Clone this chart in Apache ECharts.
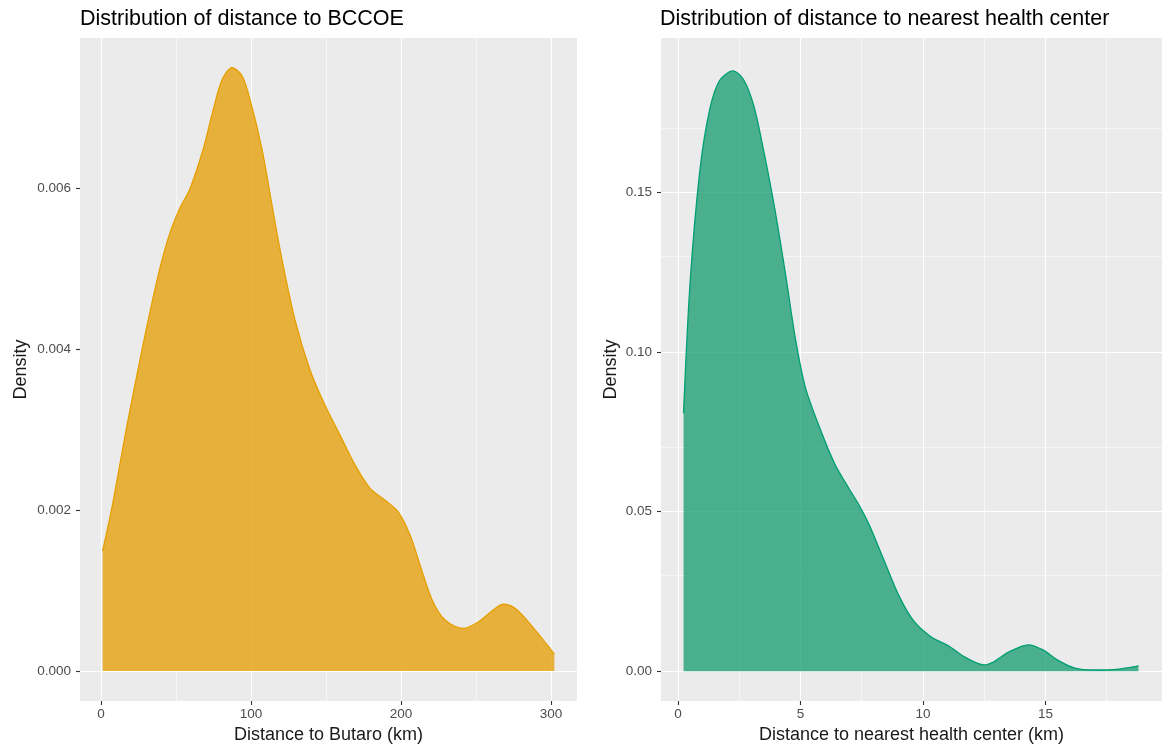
<!DOCTYPE html>
<html>
<head>
<meta charset="utf-8">
<script src="https://cdn.jsdelivr.net/npm/echarts@6/dist/echarts.min.js"></script>
<style>
  html, body { margin: 0; padding: 0; background: #fff; }
  #chart { width: 1162px; height: 750px; }
</style>
</head>
<body>
<div id="chart"></div>
<script>
// density of distance to BCCOE (km)
var butaroX = [1.1, 8.0, 17.3, 27.4, 34.0, 40.0, 46.0, 52.7, 59.4, 68.0, 74.7, 80.7, 87.4, 94.0, 99.4, 107.4, 114.0, 120.7, 129.4, 139.4, 149.4, 159.4, 169.4, 179.4, 189.5, 198.0, 206.0, 212.8, 220.8, 229.5, 241.5, 251.5, 260.8, 268.2, 276.0, 284.0, 292.9, 302.2];
var butaroY = [0.00149, 0.00210, 0.00305, 0.00400, 0.00458, 0.00506, 0.00545, 0.00576, 0.00600, 0.00648, 0.00697, 0.00735, 0.00750, 0.00740, 0.00710, 0.00648, 0.00579, 0.00511, 0.00436, 0.00374, 0.00330, 0.00293, 0.00256, 0.00227, 0.00212, 0.00198, 0.00169, 0.00131, 0.00088, 0.00063, 0.00053, 0.00061, 0.00075, 0.00083, 0.00078, 0.00063, 0.00043, 0.00021];

// density of distance to nearest health center (km)
var healthX = [0.23, 0.5, 0.9, 1.3, 1.7, 2.25, 2.7, 3.1, 3.5, 3.95, 4.4, 4.8, 5.2, 5.8, 6.4, 7.0, 7.4, 7.8, 8.4, 9.0, 9.6, 10.3, 11.1, 11.7, 12.5, 12.9, 13.5, 14.3, 14.9, 15.5, 16.2, 17.0, 18.0, 18.8];
var healthY = [0.0808, 0.122, 0.157, 0.176, 0.185, 0.188, 0.185, 0.177, 0.163, 0.145, 0.124, 0.104, 0.089, 0.076, 0.065, 0.057, 0.052, 0.046, 0.035, 0.024, 0.016, 0.011, 0.0077, 0.0045, 0.002, 0.003, 0.006, 0.0083, 0.0067, 0.0035, 0.001, 0.0004, 0.0007, 0.0017];

// ticks
var butaroTicks = [0, 100, 200, 300];
var butaroMinor = [50, 150, 250];
var butaroDensTicks = [0, 0.002, 0.004, 0.006];
var butaroDensMinor = [0.001, 0.003, 0.005, 0.007];
var healthTicks = [0, 5, 10, 15];
var healthMinor = [2.5, 7.5, 12.5, 17.5];
var healthDensTicks = [0, 0.05, 0.10, 0.15];
var healthDensMinor = [0.025, 0.075, 0.125, 0.175];

var FONT = 'Liberation Sans';

function pairs(xs, ys) {
  return xs.map(function (x, i) { return [x, ys[i]]; });
}

// ggplot style grid lines drawn through the axes' scales
function gridLines(major, minor, key) {
  var out = [];
  major.forEach(function (v) {
    var o = {}; o[key] = v; o.lineStyle = { width: 1.1 }; out.push(o);
  });
  minor.forEach(function (v) {
    var o = {}; o[key] = v; o.lineStyle = { width: 0.55 }; out.push(o);
  });
  return out;
}

function gridSeries(idx, xMaj, xMin, yMaj, yMin) {
  return {
    type: 'line', xAxisIndex: idx, yAxisIndex: idx, data: [], z: 1,
    markLine: {
      silent: true, symbol: 'none', animation: false, z: 1,
      label: { show: false },
      lineStyle: { color: '#ffffff', type: 'solid' },
      emphasis: { disabled: true },
      data: gridLines(xMaj, xMin, 'xAxis').concat(gridLines(yMaj, yMin, 'yAxis'))
    }
  };
}

function xAxisOf(idx, min, max, ticks, name) {
  return {
    type: 'value', gridIndex: idx, min: min, max: max,
    name: name, nameLocation: 'middle', nameGap: 24,
    nameTextStyle: { fontFamily: FONT, fontSize: 18, color: '#1a1a1a', verticalAlign: 'top' },
    axisLine: { show: false, onZero: false },
    axisTick: { show: true, length: 4, customValues: ticks, lineStyle: { color: '#333333', width: 1.1 } },
    axisLabel: { customValues: ticks, fontFamily: FONT, fontSize: 13.5, color: '#4d4d4d', margin: 6 },
    splitLine: { show: false }
  };
}

function yAxisOf(idx, min, max, ticks, gap, fmt) {
  return {
    type: 'value', gridIndex: idx, min: min, max: max,
    name: 'Density', nameLocation: 'middle', nameGap: gap, nameRotate: 90,
    nameTextStyle: { fontFamily: FONT, fontSize: 18, color: '#1a1a1a' },
    axisLine: { show: false, onZero: false },
    axisTick: { show: true, length: 4, customValues: ticks, lineStyle: { color: '#333333', width: 1.1 } },
    axisLabel: { customValues: ticks, fontFamily: FONT, fontSize: 13.5, color: '#4d4d4d', margin: 9, formatter: fmt },
    splitLine: { show: false }
  };
}

var chart = echarts.init(document.getElementById('chart'), null, { renderer: 'canvas' });
chart.setOption({
  animation: false,
  backgroundColor: '#ffffff',
  title: [
    { text: 'Distribution of distance to BCCOE', left: 75, top: 3,
      textStyle: { fontFamily: FONT, fontSize: 21.5, fontWeight: 'normal', color: '#000' } },
    { text: 'Distribution of distance to nearest health center', left: 655, top: 3,
      textStyle: { fontFamily: FONT, fontSize: 21.5, fontWeight: 'normal', color: '#000' } }
  ],
  grid: [
    { left: 80, top: 38, width: 497, height: 663, show: true, backgroundColor: '#ebebeb', borderWidth: 0 },
    { left: 661, top: 38, width: 503, height: 663, show: true, backgroundColor: '#ebebeb', borderWidth: 0 }
  ],
  xAxis: [
    xAxisOf(0, -14, 317.3, butaroTicks, 'Distance to Butaro (km)'),
    xAxisOf(1, -0.69, 19.76, healthTicks, 'Distance to nearest health center (km)')
  ],
  yAxis: [
    yAxisOf(0, -0.000373, 0.00787, butaroDensTicks, 50, function (v) { return v.toFixed(3); }),
    yAxisOf(1, -0.0093, 0.1983, healthDensTicks, 41, function (v) { return v.toFixed(2); })
  ],
  series: [
    gridSeries(0, butaroTicks, butaroMinor, butaroDensTicks, butaroDensMinor),
    gridSeries(1, healthTicks, healthMinor, healthDensTicks, healthDensMinor),
    {
      type: 'line', xAxisIndex: 0, yAxisIndex: 0, z: 3,
      data: pairs(butaroX, butaroY), smooth: 0.3, showSymbol: false,
      lineStyle: { color: '#e69f00', width: 1.3 },
      areaStyle: { color: 'rgba(228,162,20,0.82)', opacity: 1 }
    },
    {
      type: 'line', xAxisIndex: 1, yAxisIndex: 1, z: 3,
      data: pairs(healthX, healthY), smooth: 0.3, showSymbol: false,
      lineStyle: { color: '#009e73', width: 1.3 },
      areaStyle: { color: 'rgba(20,155,110,0.75)', opacity: 1 }
    }
  ]
});
window.onresize = chart.resize;
</script>
</body>
</html>
